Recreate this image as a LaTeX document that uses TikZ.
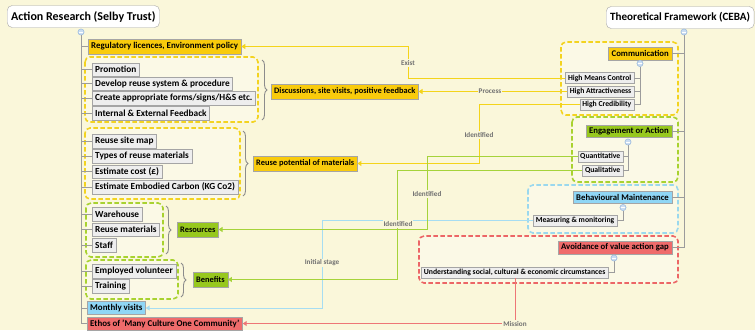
\documentclass[tikz,border=0pt]{standalone}
\usepackage{fontspec}
\setmainfont{Carlito}
\usetikzlibrary{arrows.meta,decorations.pathreplacing}
\definecolor{bg}{HTML}{FAF7DA}
\definecolor{ycol}{HTML}{F9CB0C}
\definecolor{gcol}{HTML}{97C81E}
\definecolor{bcol}{HTML}{8FD6F5}
\definecolor{rcol}{HTML}{EF6B6B}
\definecolor{yline}{HTML}{F4D41A}
\definecolor{gline}{HTML}{A5D33A}
\definecolor{bline}{HTML}{A6DDF2}
\definecolor{rline}{HTML}{EE7676}
\definecolor{ydash}{HTML}{F3D320}
\definecolor{gdash}{HTML}{A8D230}
\definecolor{bdash}{HTML}{9AD8EE}
\definecolor{rdash}{HTML}{EC6666}
\definecolor{ifill}{HTML}{EEEEEE}
\definecolor{iborder}{HTML}{A5A5A5}
\definecolor{labc}{HTML}{707070}
\definecolor{trunkc}{HTML}{9C9C9C}
\definecolor{circf}{HTML}{CADDF2}
\definecolor{circd}{HTML}{A3C0DF}
\tikzset{
  title/.style={draw=iborder, fill=white, rounded corners=5pt, font=\fontsize{12}{14}\selectfont\bfseries, inner xsep=4pt, minimum height=22pt, anchor=west},
  item/.style={draw=iborder, fill=ifill, font=\fontsize{9.3}{11}\selectfont\bfseries, inner xsep=3pt, inner ysep=0pt, minimum height=13.5pt, anchor=west},
  sub/.style={draw=iborder, fill=ifill, font=\fontsize{7.7}{9}\selectfont\bfseries, inner xsep=2.5pt, inner ysep=0pt, minimum height=11pt, anchor=east},
  cbox/.style={draw=iborder, font=\fontsize{8.9}{11}\selectfont\bfseries, inner xsep=3pt, inner ysep=0pt, minimum height=15pt, anchor=west},
  tbox/.style={cbox, font=\fontsize{8.4}{10}\selectfont\bfseries},
  hbox/.style={draw=iborder, font=\fontsize{8.7}{10}\selectfont\bfseries, inner xsep=3pt, inner ysep=0pt, minimum height=12.5pt, anchor=east},
  grp/.style={dash pattern=on 4.5pt off 2.5pt, line width=1.6pt, rounded corners=5pt, fill=white, fill opacity=0.35},
  trunk/.style={draw=trunkc, line width=0.7pt},
  conn/.style={line width=1pt, -{Triangle[length=4pt,width=5pt]}},
  lab/.style={fill=bg, text=labc, font=\fontsize{7.2}{8}\selectfont\bfseries, inner sep=1pt},
  circ/.style={circle, draw=circd, fill=circf, minimum size=6pt, inner sep=0pt, line width=0.5pt},
  brc/.style={draw=trunkc!90!black, line width=0.9pt, decorate, decoration={brace, amplitude=5pt}},
}
\begin{document}
\begin{tikzpicture}[x=1pt,y=-1pt]
\useasboundingbox (0,0) rectangle (755,330);
\fill[bg] (0,0) rectangle (755,330);
% group frames
\draw[grp, draw=ydash] (85,57) rectangle (258,122);
\draw[grp, draw=ydash] (85,128) rectangle (240,199);
\draw[grp, draw=gdash] (86,203) rectangle (163,257);
\draw[grp, draw=gdash] (86,260) rectangle (178,299);
\draw[grp, draw=ydash] (561,42) rectangle (678,115);
\draw[grp, draw=gdash] (572,117) rectangle (678,182);
\draw[grp, draw=bdash] (528,185) rectangle (678,233);
\draw[grp, draw=rdash] (419,236) rectangle (678,283);
% left tree
\node[title] (lt) at (7,16.5) {Action Research (Selby Trust)};
\node[cbox, fill=ycol] (reg) at (88,46.5) {Regulatory licences, Environment policy};
\node[item] (i1) at (92,69.5) {Promotion};
\node[item] (i2) at (92,83.5) {Develop reuse system \& procedure};
\node[item] (i3) at (92,98) {Create appropriate forms/signs/H\&S etc.};
\node[item] (i4) at (92,113) {Internal \& External Feedback};
\node[item] (i5) at (92,141) {Reuse site map};
\node[item] (i6) at (92,156) {Types of reuse materials};
\node[item] (i7) at (92,171.5) {Estimate cost (£)};
\node[item] (i8) at (92,187) {Estimate Embodied Carbon (KG Co2)};
\node[item] (i9) at (92,214) {Warehouse};
\node[item] (i10) at (92,229.5) {Reuse materials};
\node[item] (i11) at (92,245) {Staff};
\node[item] (i12) at (92,271) {Employed volunteer};
\node[item] (i13) at (92,286) {Training};
\node[cbox, fill=bcol, minimum height=13pt] (mon) at (87,308) {Monthly visits};
\node[cbox, fill=rcol, minimum height=13.5pt] (eth) at (87,323.5) {Ethos of 'Many Culture One Community'};
\node[tbox, fill=ycol] (disc) at (271,91.5) {Discussions, site visits, positive feedback};
\node[tbox, fill=ycol] (rpm) at (253,163.5) {Reuse potential of materials};
\node[tbox, fill=gcol] (res) at (177,229.5) {Resources};
\node[tbox, fill=gcol] (ben) at (193,279.5) {Benefits};
\node[circ] (lc) at (81,32) {};
\draw[trunk] (lc.south) |- (eth.west);
\foreach \n in {reg,i1,i2,i3,i4,i5,i6,i7,i8,i9,i10,i11,i12,i13,mon}
  \draw[trunk] (lc.south |- \n.west) -- (\n.west);
% braces
\draw[brc] (262,60) -- (262,120);
\draw[brc] (243,131) -- (243,196);
\draw[brc] (166,206) -- (166,254);
\draw[brc] (181,263) -- (181,297);
% right tree
\node[title, font=\fontsize{11.1}{14}\selectfont\bfseries] (rt) at (606,17.5) {Theoretical Framework (CEBA)};
\node[hbox, fill=ycol] (comm) at (672,53.5) {Communication};
\node[sub] (hmc) at (634,78) {High Means Control};
\node[sub] (hat) at (634,91.5) {High Attractiveness};
\node[sub] (hcr) at (634,104.5) {High Credibility};
\node[hbox, fill=gcol] (eng) at (672,131) {Engagement or Action};
\node[sub] (quan) at (623,156.5) {Quantitative};
\node[sub] (qual) at (623,170.5) {Qualitative};
\node[hbox, fill=bcol] (beh) at (672,197) {Behavioural Maintenance};
\node[sub] (mm) at (617,220.5) {Measuring \& monitoring};
\node[hbox, fill=rcol] (avo) at (672,247.5) {Avoidance of value action gap};
\node[sub] (und) at (608,272.5) {Understanding social, cultural \& economic circumstances};
\node[circ] (rc) at (684,32) {};
\node[circ] (cc) at (640,63.5) {};
\node[circ] (ec) at (628,142) {};
\node[circ] (bc) at (623,207.5) {};
\node[circ] (ac) at (614,258) {};
\draw[trunk] (rc.south) |- (avo.east);
\foreach \n in {comm,eng,beh}
  \draw[trunk] (rc.south |- \n.east) -- (\n.east);
\draw[trunk] (cc.south) |- (hcr.east);
\foreach \n in {hmc,hat} \draw[trunk] (cc.south |- \n.east) -- (\n.east);
\draw[trunk] (ec.south) |- (qual.east);
\draw[trunk] (ec.south |- quan.east) -- (quan.east);
\draw[trunk] (bc.south) |- (mm.east);
\draw[trunk] (ac.south) |- (und.east);
% circles redrawn on top with minus
\foreach \c in {lc,rc,cc,ec,bc,ac}{
  \node[circ] at (\c) {};
  \draw[white, line width=0.6pt] ([xshift=-1.6pt]\c.center) -- ([xshift=1.6pt]\c.center);
}
% connectors
\coordinate (kx) at (408,0);
\coordinate (ky) at (479,0);
\coordinate (kg1) at (427,0);
\coordinate (kg2) at (397,0);
\coordinate (kb) at (322,0);
\coordinate (kr) at (515,0);
\draw[conn, draw=yline, color=yline] (hmc.west) -| (kx |- reg.east) -- (reg.east);
\draw[conn, draw=yline, color=yline] (hat.west) -- (disc.east);
\draw[conn, draw=yline, color=yline] (hcr.west) -| (ky |- rpm.east) -- (rpm.east);
\draw[conn, draw=bline, color=bline] (mm.west) -| (kb |- mon.east) -- (mon.east);
\draw[conn, draw=gline, color=gline] (quan.west) -| (kg1 |- res.east) -- (res.east);
\draw[conn, draw=gline, color=gline] (qual.west) -| (kg2 |- ben.east) -- (ben.east);
\draw[conn, draw=rline, color=rline] (und.south -| kr) |- (eth.east);
% labels
\node[lab] (l1) at (408,63) {Exist};
\node[lab] (l2) at (490,91.5) {Process};
\node[lab] (l3) at (479,135) {Identified};
\node[lab] (l4) at (427,194) {Identified};
\node[lab] (l5) at (398,224) {Identified};
\node[lab] (l6) at (322,263) {Initial stage};
\node[lab] (l7) at (515,324) {Mission};
\end{tikzpicture}
\end{document}
